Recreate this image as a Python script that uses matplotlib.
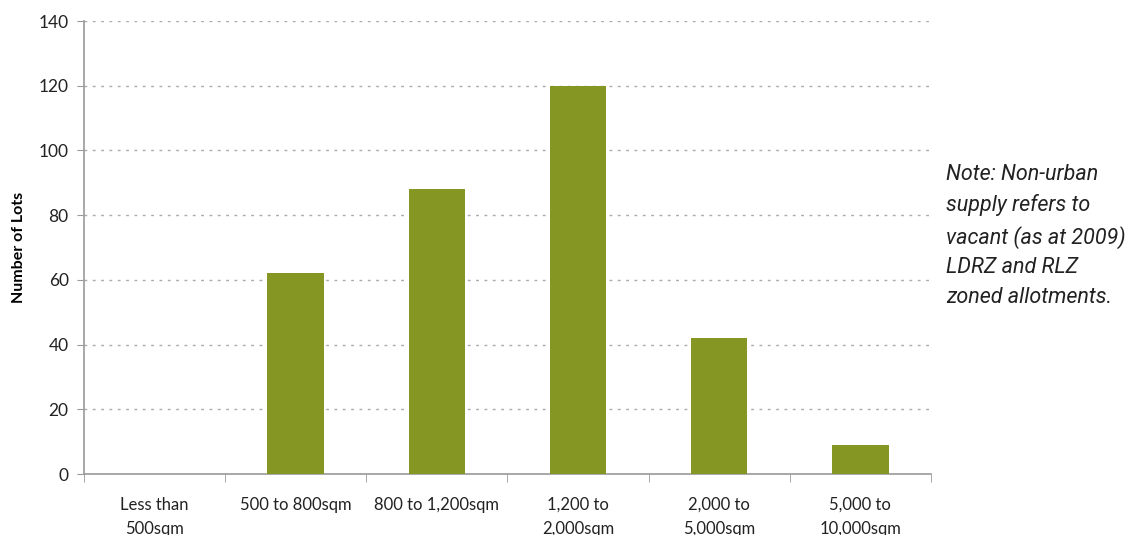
import numpy as np
import matplotlib
matplotlib.use("Agg")
import matplotlib.pyplot as plt

categories = ["Less than\n500sqm", "500 to 800sqm", "800 to 1,200sqm",
              "1,200 to\n2,000sqm", "2,000 to\n5,000sqm", "5,000 to\n10,000sqm"]
lots = [0, 62, 88, 120, 42, 9]
y_ticks = [0, 20, 40, 60, 80, 100, 120, 140]

plt.rcParams['font.family'] = ['Lato', 'DejaVu Sans']

fig = plt.figure(figsize=(11.41, 5.35), dpi=100)
ax = fig.add_axes([0.0736, 0.114, 0.7423, 0.8467])

x = np.arange(len(categories))
ax.bar(x, lots, width=0.4, color='#859722', zorder=3)

ax.set_xlim(-0.5, len(categories) - 0.5)
ax.set_ylim(0, 140)
ax.set_yticks(y_ticks)
ax.set_yticklabels([str(v) for v in y_ticks], fontsize=12.5, color='#222222')

ax.set_xticks(x)
ax.set_xticklabels(categories, fontsize=12, color='#222222', linespacing=1.6, va='top')
ax.tick_params(axis='x', length=0, pad=16.5)
ax.set_xticks(np.arange(len(categories) + 1) - 0.5, minor=True)
ax.tick_params(axis='x', which='minor', length=6, color='#999999')
ax.tick_params(axis='y', length=5, color='#999999', pad=6)

for s in ['top', 'right']:
    ax.spines[s].set_visible(False)
for s in ['left', 'bottom']:
    ax.spines[s].set_color('#999999')
    ax.spines[s].set_linewidth(1.2)

ax.yaxis.grid(True, linestyle=(0, (2, 4)), color='#aaaaaa', linewidth=1, zorder=0)
ax.set_ylabel('Number of Lots', fontsize=11.5, fontweight='bold', labelpad=9)

fig.text(0.829, 0.693, "Note: Non-urban\nsupply refers to\nvacant (as at 2009)\nLDRZ and RLZ\nzoned allotments.",
         fontsize=15.5, style='italic', family=['Roboto', 'DejaVu Sans'],
         color='#222222', va='top', ha='left', linespacing=1.53)

fig.savefig('out.png', dpi=100)
